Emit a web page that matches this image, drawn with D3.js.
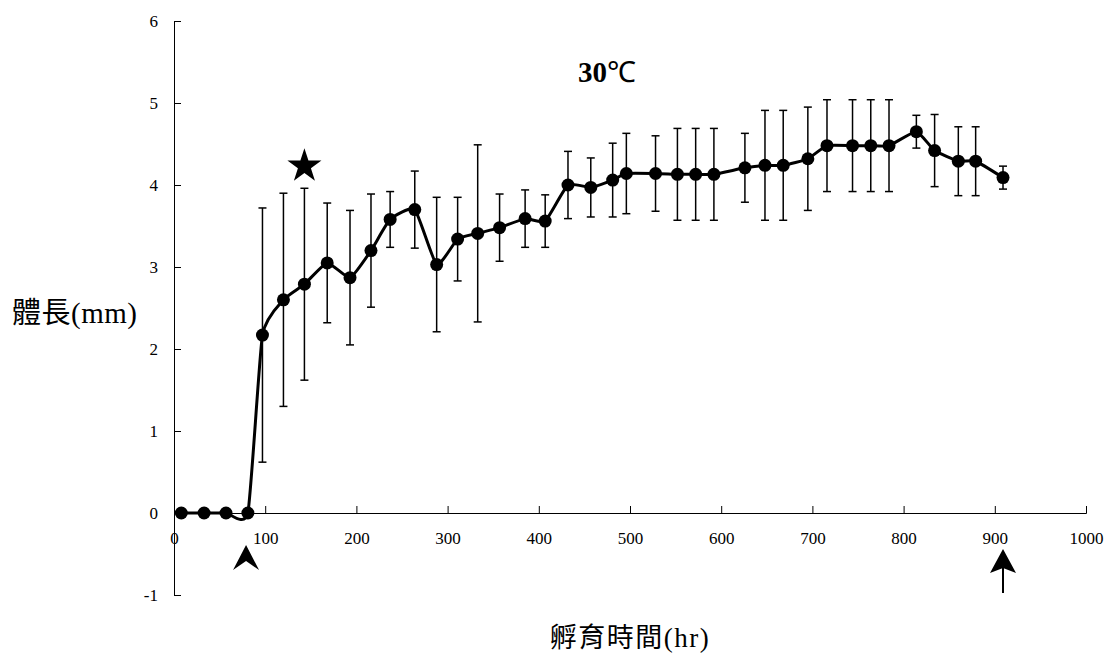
<!DOCTYPE html>
<html>
<head>
<meta charset="utf-8">
<script src="https://cdn.jsdelivr.net/npm/d3@7"></script>
<style>
  body { margin: 0; background: #fff; }
  svg text { font-family: "Liberation Serif", "Times New Roman", "DejaVu Serif", "Noto Sans CJK TC", serif; fill: #000; }
</style>
</head>
<body>
<div id="chart"></div>
<script>
// Incubation time (hr), mean body length (mm) and its SD
var hours = [8, 33, 57, 81, 97, 120, 143, 168, 193, 216, 237, 264, 288, 311, 333, 357, 385, 407,
    432, 457, 481, 496, 528, 552, 572, 592, 626, 648, 668, 695, 716, 744, 764, 784, 814, 834, 860, 879, 909];
var lengths = [0, 0, 0, 0, 2.17, 2.60, 2.79, 3.05, 2.87, 3.20, 3.58, 3.70, 3.03, 3.34, 3.41, 3.48, 3.59, 3.56,
    4.00, 3.97, 4.06, 4.14, 4.14, 4.13, 4.13, 4.13, 4.21, 4.24, 4.24, 4.32, 4.48, 4.48, 4.48, 4.48, 4.65, 4.42, 4.29, 4.29, 4.09];
var errors = [0, 0, 0, 0, 1.55, 1.30, 1.17, 0.73, 0.82, 0.69, 0.34, 0.47, 0.82, 0.51, 1.08, 0.41, 0.35, 0.32,
    0.41, 0.36, 0.45, 0.49, 0.46, 0.56, 0.56, 0.56, 0.42, 0.67, 0.67, 0.63, 0.56, 0.56, 0.56, 0.56, 0.20, 0.44, 0.42, 0.42, 0.14];

var xTicks = [0, 100, 200, 300, 400, 500, 600, 700, 800, 900, 1000];
var yTicks = [-1, 0, 1, 2, 3, 4, 5, 6];

var xTitle = "孵育時間(hr)";
var yTitle = "體長(mm)";

// star marks the hatching point, arrows mark start / end of observation
var starHour = 143, starValue = 4.23;
var arrowHours = [79, 909];

var svgWidth = 1105;
var svgHeight = 655;
var serif = "'Liberation Serif', 'Times New Roman', serif";
var mixed = "'Liberation Serif', 'Noto Sans CJK TC', serif";

var svg = d3.select("#chart")
    .append("svg")
    .attr("width", svgWidth)
    .attr("height", svgHeight);

var xScale = d3.scaleLinear().domain([0, 1000]).range([174, 1086]);
var yScale = d3.scaleLinear().domain([-1, 6]).range([595, 21]);

var data = hours.map(function (h, i) {
    return { hour: h, len: lengths[i], err: errors[i] };
});

// axes
var xAxis = svg.append("g")
    .attr("transform", `translate(0, ${yScale(0)})`)
    .call(d3.axisBottom(xScale).tickValues(xTicks).tickFormat(d => String(d))
        .tickSize(-7).tickSizeOuter(-7).tickPadding(19));

var yAxis = svg.append("g")
    .attr("transform", `translate(${xScale(0)}, 0)`)
    .call(d3.axisLeft(yScale).tickValues(yTicks).tickFormat(d => String(d))
        .tickSize(-7).tickSizeOuter(-7).tickPadding(16));

svg.selectAll(".domain, .tick line").attr("stroke", "#000").attr("stroke-width", 1);
svg.selectAll(".tick text")
    .style("font-family", serif)
    .style("font-size", "17px");

// error bars
var bars = svg.append("g").selectAll("g")
    .data(data.filter(d => d.err > 0))
    .enter()
    .append("g")
    .attr("stroke", "#000")
    .attr("stroke-width", 1.5);

bars.append("line")
    .attr("x1", d => xScale(d.hour))
    .attr("x2", d => xScale(d.hour))
    .attr("y1", d => yScale(d.len + d.err))
    .attr("y2", d => yScale(d.len - d.err));
bars.append("line")
    .attr("x1", d => xScale(d.hour) - 4)
    .attr("x2", d => xScale(d.hour) + 4)
    .attr("y1", d => yScale(d.len + d.err))
    .attr("y2", d => yScale(d.len + d.err));
bars.append("line")
    .attr("x1", d => xScale(d.hour) - 4)
    .attr("x2", d => xScale(d.hour) + 4)
    .attr("y1", d => yScale(d.len - d.err))
    .attr("y2", d => yScale(d.len - d.err));

// smoothed line
var line = d3.line()
    .x(d => xScale(d.hour))
    .y(d => yScale(d.len))
    .curve(d3.curveCardinal.tension(0.5));

svg.append("path")
    .datum(data)
    .attr("d", line)
    .attr("fill", "none")
    .attr("stroke", "#000")
    .attr("stroke-width", 3);

svg.append("g").selectAll("circle")
    .data(data)
    .enter()
    .append("circle")
    .attr("cx", d => xScale(d.hour))
    .attr("cy", d => yScale(d.len))
    .attr("r", 6.5)
    .attr("fill", "#000");

// star
svg.append("path")
    .attr("d", d3.symbol(d3.symbolStar).size(360)())
    .attr("transform", `translate(${xScale(starHour)}, ${yScale(starValue)})`)
    .attr("fill", "#000");

// arrow head at onset
svg.append("path")
    .attr("d", "M0,0 L-13,25 L0,16 L13,25 Z")
    .attr("transform", `translate(${xScale(arrowHours[0])}, 545)`)
    .attr("fill", "#000");

// arrow at end
var endArrow = svg.append("g")
    .attr("transform", `translate(${xScale(arrowHours[1])}, 549)`);
endArrow.append("line")
    .attr("x1", 0).attr("x2", 0)
    .attr("y1", 14).attr("y2", 44)
    .attr("stroke", "#000")
    .attr("stroke-width", 2);
endArrow.append("path")
    .attr("d", "M0,0 L-13,24 L0,19 L13,24 Z")
    .attr("fill", "#000");

// titles
var titleText = svg.append("text")
    .attr("x", 607)
    .attr("y", 82)
    .attr("text-anchor", "middle")
    .style("font-family", mixed)
    .style("font-size", "29px");
titleText.append("tspan").attr("font-weight", "bold").text("30");
titleText.append("tspan").style("font-family", serif).text("℃");

svg.append("text")
    .attr("x", 12)
    .attr("y", 323)
    .style("font-family", mixed)
    .style("font-size", "29px")
    .style("letter-spacing", "0.5px")
    .text(yTitle);

svg.append("text")
    .attr("x", 630)
    .attr("y", 647)
    .attr("text-anchor", "middle")
    .style("font-family", mixed)
    .style("font-size", "27px")
    .style("letter-spacing", "1.5px")
    .text(xTitle);
</script>
</body>
</html>
